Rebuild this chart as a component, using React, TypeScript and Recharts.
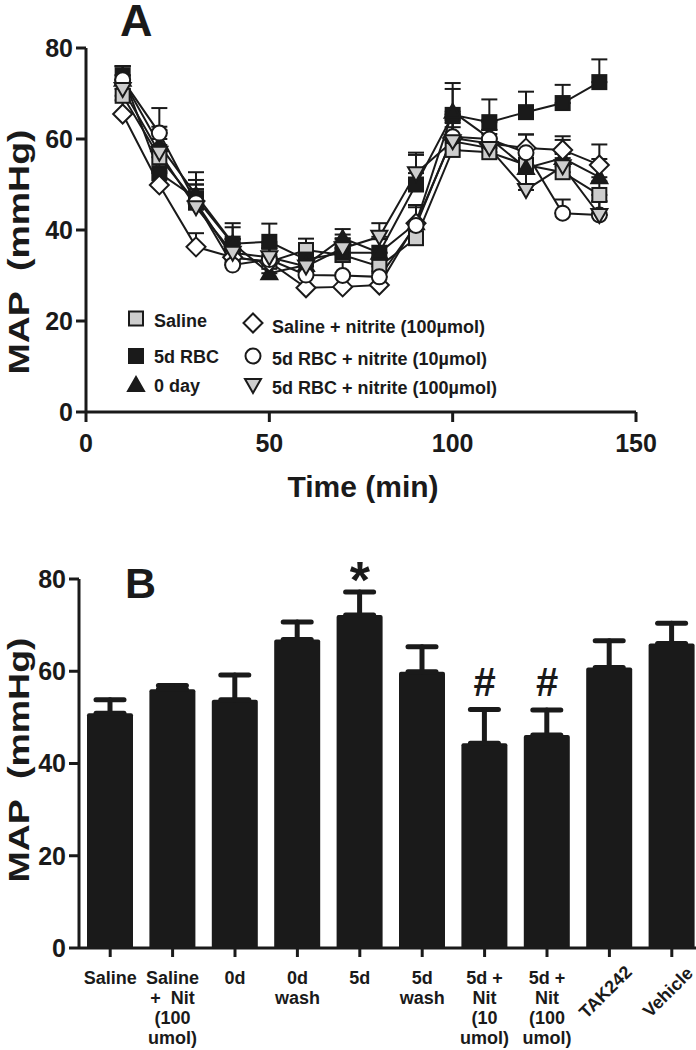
import React from 'react';
import { LineChart, Line, XAxis, YAxis, ErrorBar, Legend, BarChart, Bar, ReferenceDot } from 'recharts';

const FONT = '"Liberation Sans", Arial, Helvetica, sans-serif';
const INK = '#1a1a1a';
const GREY = '#cdcdcd';

// ---- panel A: MAP over time ----
const times = [10, 20, 30, 40, 50, 60, 70, 80, 90, 100, 110, 120, 130, 140];
const saline = [69.5, 56, 46, 34, 33, 35.6, 34.5, 32, 38.2, 57.6, 57.1, 54.3, 52.7, 47.7];
const salineErr = [3, 4, 4, 3, 3, 2.5, 3, 3, 3, 5, 4, 4, 4, 3];
const rbc5d = [74, 52.5, 47, 37, 37.4, 33.5, 35, 35, 50, 65.3, 63.7, 65.9, 67.9, 72.5];
const rbc5dErr = [2, 5, 4, 4.5, 4, 3.5, 3, 3, 7, 7, 5, 4.5, 4, 5];
const day0 = [73, 58.7, 47.7, 37.1, 30.5, 32.3, 38.2, 35, 41.5, 66, 60.2, 53.6, 55.8, 51.6];
const day0Err = [3, 4, 5, 3.5, 3, 3, 2, 3, 4, 5, 4, 4, 4, 4];
const salNit100 = [65.5, 49.9, 36.3, 34, 33, 27.3, 27.5, 27.9, 41.5, 60.2, 59, 58, 57.6, 54.3];
const salNit100Err = [3, 3, 3, 4, 3, 3, 3, 3, 4, 4, 3, 3, 3, 4.5];
const rbcNit10 = [73, 61.3, 46, 32.3, 33.5, 30.1, 30, 29.7, 41, 60.5, 60, 57, 43.7, 43.3];
const rbcNit10Err = [3, 5.5, 4, 3, 3, 3, 3, 3, 4, 5, 4, 4, 3, 3];
const rbcNit100 = [71, 57, 45, 35, 34, 32, 36, 38.5, 52.5, 59.5, 58, 48.8, 54, 43.3];
const rbcNit100Err = [3, 5, 4, 3, 3, 3, 3, 3, 4, 4, 4, 4, 3, 3];

const series = [
  { key: 'saline', name: 'Saline', values: saline, errors: salineErr, shape: 'square', fill: GREY },
  { key: 'rbc5d', name: '5d RBC', values: rbc5d, errors: rbc5dErr, shape: 'square', fill: INK },
  { key: 'day0', name: '0 day', values: day0, errors: day0Err, shape: 'triangle', fill: INK },
  { key: 'salNit100', name: 'Saline + nitrite (100µmol)', values: salNit100, errors: salNit100Err, shape: 'diamond', fill: '#fff' },
  { key: 'rbcNit10', name: '5d RBC + nitrite (10µmol)', values: rbcNit10, errors: rbcNit10Err, shape: 'circle', fill: '#fff' },
  { key: 'rbcNit100', name: '5d RBC + nitrite (100µmol)', values: rbcNit100, errors: rbcNit100Err, shape: 'invtriangle', fill: GREY },
];

const lineData = times.map((t, i) => {
  const row: any = { time: t };
  series.forEach(s => {
    row[s.key] = s.values[i];
    row[s.key + 'Err'] = [0, s.errors[i]];
  });
  return row;
});

// ---- panel B: MAP per group ----
const groups = [
  'Saline',
  'Saline\n+  Nit\n(100\numol)',
  '0d',
  '0d\nwash',
  '5d',
  '5d\nwash',
  '5d +\nNit\n(10\numol)',
  '5d +\nNit\n(100\numol)',
  'TAK242',
  'Vehicle',
];
const groupMap = [50.9, 56.1, 53.8, 66.9, 72.2, 59.9, 44.4, 46.2, 60.8, 66.0];
const groupErr = [2.9, 0.8, 5.4, 3.8, 5.0, 5.4, 7.3, 5.4, 5.8, 4.4];
const groupMarks = ['', '', '', '', '*', '', '#', '#', '', ''];
const rotatedGroups = ['TAK242', 'Vehicle'];

const barData = groups.map((g, i) => ({ cat: g, map: groupMap[i], err: [0, groupErr[i]] }));

const tickFont = { fill: INK, fontSize: 25, fontWeight: 700, fontFamily: FONT };

function Marker({ shape, cx, cy, fill }: any) {
  if (cx == null || cy == null) return null;
  const sw = 2;
  if (shape === 'square') {
    return <rect x={cx - 7} y={cy - 7} width={14} height={14} fill={fill} stroke={INK} strokeWidth={sw} />;
  }
  if (shape === 'circle') {
    return <circle cx={cx} cy={cy} r={7.5} fill={fill} stroke={INK} strokeWidth={sw} />;
  }
  if (shape === 'diamond') {
    return <polygon points={`${cx},${cy - 9.5} ${cx + 9.5},${cy} ${cx},${cy + 9.5} ${cx - 9.5},${cy}`} fill={fill} stroke={INK} strokeWidth={sw} />;
  }
  if (shape === 'triangle') {
    return <polygon points={`${cx},${cy - 8} ${cx + 8},${cy + 6} ${cx - 8},${cy + 6}`} fill={fill} stroke={INK} strokeWidth={sw} />;
  }
  return <polygon points={`${cx},${cy + 8} ${cx + 8},${cy - 6} ${cx - 8},${cy - 6}`} fill={fill} stroke={INK} strokeWidth={sw} />;
}

function LegendA() {
  const col1 = series.slice(0, 3);
  const col2 = series.slice(3);
  const rows1 = [[18.5, 27], [56, 63], [85, 92]];
  const rows2 = [[23, 33], [56, 65], [85, 94]];
  const txt = { fill: INK, fontSize: 18, fontWeight: 700, fontFamily: FONT };
  return (
    <svg width={400} height={100}>
      {col1.map((s, i) => (
        <g key={s.key}>
          <Marker shape={s.shape} cx={16} cy={rows1[i][0]} fill={s.fill} />
          <text x={34} y={rows1[i][1]} {...txt}>{s.name}</text>
        </g>
      ))}
      {col2.map((s, i) => (
        <g key={s.key}>
          <Marker shape={s.shape} cx={133} cy={rows2[i][0]} fill={s.fill} />
          <text x={152} y={rows2[i][1]} {...txt}>{s.name}</text>
        </g>
      ))}
    </svg>
  );
}

function GroupTick({ x, y, payload }: any) {
  const label: string = payload.value;
  const style = { fill: INK, fontSize: 18, fontWeight: 700, fontFamily: FONT };
  if (rotatedGroups.includes(label)) {
    const cy = y + 34;
    const cx = x - 3;
    return (
      <text x={cx} y={cy} textAnchor="middle" dominantBaseline="middle" transform={`rotate(-45, ${cx}, ${cy})`} {...style}>
        {label}
      </text>
    );
  }
  const lines = label.split('\n');
  return (
    <text x={x} y={y} textAnchor="middle" style={{ whiteSpace: 'pre' }} {...style}>
      {lines.map((l, i) => (
        <tspan key={i} x={x} dy={i === 0 ? 25 : 20}>{l}</tspan>
      ))}
    </text>
  );
}

const markLabel = (mark: string) => (props: any) => {
  const vb = props.viewBox || {};
  const star = mark === '*';
  return (
    <text
      x={vb.x}
      y={star ? vb.y + 6 : vb.y - 14}
      textAnchor="middle"
      fill={INK}
      fontSize={star ? 52 : 40}
      fontWeight={700}
      fontFamily={FONT}
    >
      {mark}
    </text>
  );
};

export default function App() {
  return (
    <div style={{ position: 'absolute', left: 0, top: 0, width: 696, height: 1050, overflow: 'hidden', background: '#fff' }}>
      <div style={{ position: 'absolute', left: 0, top: 0 }}>
        <LineChart width={696} height={520} data={lineData} margin={{ top: 48, right: 60, bottom: 28, left: 0 }}>
          <XAxis
            type="number"
            dataKey="time"
            domain={[0, 150]}
            ticks={[0, 50, 100, 150]}
            interval={0}
            height={80}
            tickSize={10}
            tickMargin={12}
            axisLine={{ stroke: INK, strokeWidth: 3 }}
            tickLine={{ stroke: INK, strokeWidth: 3 }}
            tick={tickFont}
          />
          <YAxis
            type="number"
            domain={[0, 80]}
            ticks={[0, 20, 40, 60, 80]}
            interval={0}
            width={86}
            tickSize={10}
            tickMargin={3}
            axisLine={{ stroke: INK, strokeWidth: 3 }}
            tickLine={{ stroke: INK, strokeWidth: 3 }}
            tick={tickFont}
          />
          <Legend
            layout="horizontal"
            verticalAlign="middle"
            align="center"
            wrapperStyle={{ left: 120, top: 300, width: 400, height: 100 }}
            content={() => <LegendA />}
          />
          {series.map(s => (
            <Line
              key={s.key}
              dataKey={s.key}
              name={s.name}
              type="linear"
              stroke={INK}
              strokeWidth={2}
              isAnimationActive={false}
              dot={(p: any) => <Marker key={`${s.key}-${p.index}`} shape={s.shape} cx={p.cx} cy={p.cy} fill={s.fill} />}
              activeDot={false}
            >
              <ErrorBar dataKey={s.key + 'Err'} direction="y" width={8} stroke={INK} strokeWidth={2} />
            </Line>
          ))}
        </LineChart>
      </div>

      <div style={{ position: 'absolute', left: 0, top: 530 }}>
        <BarChart width={720} height={520} data={barData} margin={{ top: 49, right: 17, bottom: 7, left: 0 }}>
          <XAxis
            dataKey="cat"
            interval={0}
            height={95}
            tickSize={9}
            tickMargin={2}
            axisLine={{ stroke: INK, strokeWidth: 3 }}
            tickLine={{ stroke: INK, strokeWidth: 3 }}
            tick={<GroupTick />}
          />
          <YAxis
            type="number"
            domain={[0, 80]}
            ticks={[0, 20, 40, 60, 80]}
            interval={0}
            width={79}
            tickSize={10}
            tickMargin={3}
            axisLine={{ stroke: INK, strokeWidth: 3 }}
            tickLine={{ stroke: INK, strokeWidth: 3 }}
            tick={tickFont}
          />
          <Bar dataKey="map" fill={INK} barSize={46} radius={[2, 2, 0, 0]} isAnimationActive={false}>
            <ErrorBar dataKey="err" direction="y" width={14} stroke={INK} strokeWidth={5} strokeLinecap="round" />
          </Bar>
          {groups.map((g, i) =>
            groupMarks[i] ? (
              <ReferenceDot
                key={g}
                x={g}
                y={groupMap[i] + groupErr[i]}
                r={0}
                fill="none"
                stroke="none"
                label={markLabel(groupMarks[i])}
              />
            ) : null
          )}
        </BarChart>
      </div>

      <svg width={696} height={1050} style={{ position: 'absolute', left: 0, top: 0, pointerEvents: 'none' }}>
        <g fill={INK} fontFamily={FONT} fontWeight={700}>
          <text x={120} y={36} fontSize={45}>A</text>
          <text x={125} y={598} fontSize={43}>B</text>
          <text x={363} y={497} fontSize={30} textAnchor="middle">Time (min)</text>
          <text
            x={0}
            y={0}
            fontSize={29}
            textAnchor="middle"
            textLength={245}
            lengthAdjust="spacingAndGlyphs"
            style={{ whiteSpace: 'pre' }}
            transform="translate(29, 252) rotate(-90)"
          >
            MAP  (mmHg)
          </text>
          <text
            x={0}
            y={0}
            fontSize={29}
            textAnchor="middle"
            textLength={245}
            lengthAdjust="spacingAndGlyphs"
            style={{ whiteSpace: 'pre' }}
            transform="translate(29, 760) rotate(-90)"
          >
            MAP  (mmHg)
          </text>
        </g>
      </svg>
    </div>
  );
}
